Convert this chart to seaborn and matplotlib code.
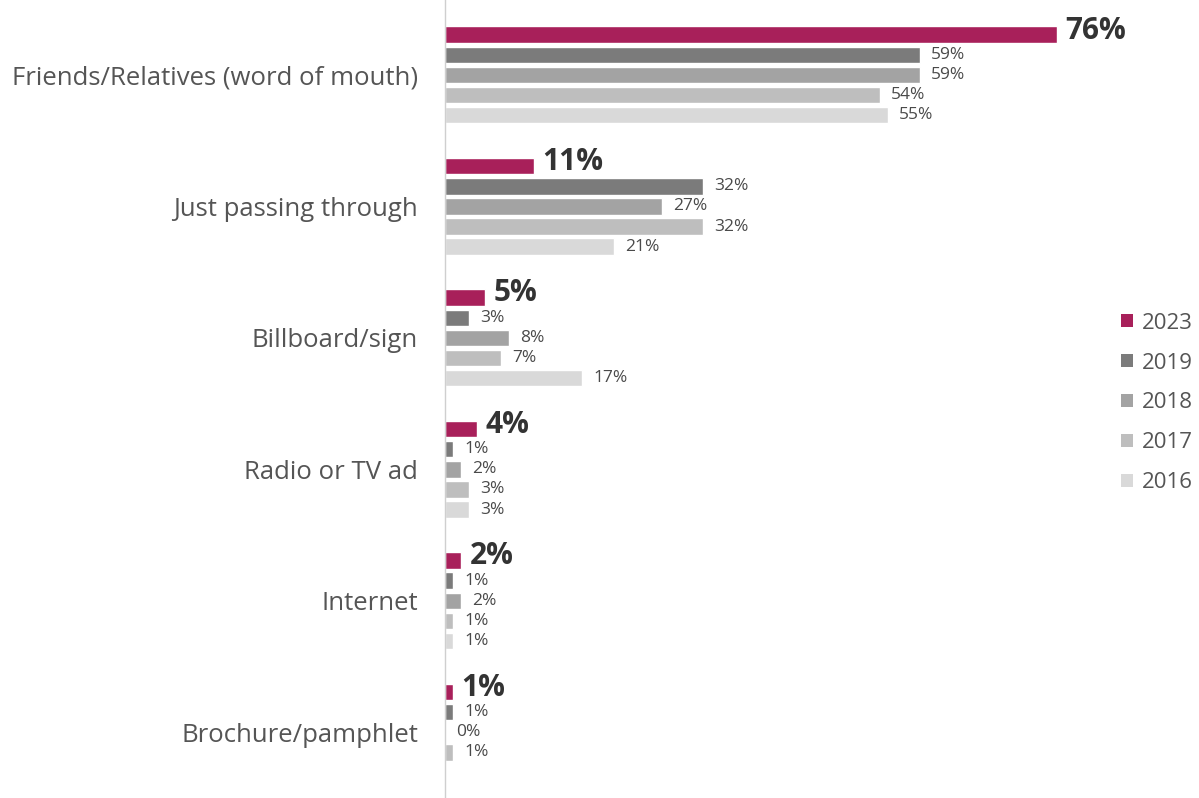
import matplotlib
matplotlib.use("Agg")
import matplotlib.pyplot as plt
import seaborn as sns
import pandas as pd
import numpy as np
from matplotlib.patches import Patch

categories = ["Friends/Relatives (word of mouth)", "Just passing through", "Billboard/sign",
              "Radio or TV ad", "Internet", "Brochure/pamphlet"]
years = ["2023", "2019", "2018", "2017", "2016"]
v2023 = [76, 11, 5, 4, 2, 1]
v2019 = [59, 32, 3, 1, 1, 1]
v2018 = [59, 27, 8, 2, 2, 0]
v2017 = [54, 32, 7, 3, 1, 1]
v2016 = [55, 21, 17, 3, 1, np.nan]
colors = ["#A8205A", "#7B7B7B", "#A3A3A3", "#BEBEBE", "#D9D9D9"]

series = [v2023, v2019, v2018, v2017, v2016]
rows = []
for y, vals in zip(years, series):
    for c, v in zip(categories, vals):
        rows.append({"cat": c, "year": y, "val": v})
df = pd.DataFrame(rows)

sns.set_style("white")
plt.rcParams["font.family"] = ["Open Sans", "DejaVu Sans"]
txt = "#4A4A4A"

fig = plt.figure(figsize=(11.99, 7.98), dpi=100)
ax = fig.add_axes([445 / 1199, 0, 645 / 1199, 1])

sns.barplot(data=df, y="cat", x="val", hue="year", hue_order=years, order=categories,
            palette=colors, orient="h", width=0.765, gap=0.18, ax=ax, legend=False,
            saturation=1, errorbar=None)

ax.set_xlim(0, 645 / 8.05)
ax.set_ylim(5.5, -0.57)

for i, cont in enumerate(ax.containers):
    for bar in cont:
        if bar is None:
            continue
        w = bar.get_width()
        if w != w:
            continue
        yc = bar.get_y() + bar.get_height() / 2
        if i == 0:
            ax.annotate(f"{int(round(w))}%", (w, yc), xytext=(6, 3), textcoords="offset points",
                        va="center", ha="left", fontsize=21.5, fontweight="bold", color="#333333")
        else:
            ax.annotate(f"{int(round(w))}%", (w, yc), xytext=(8, 0), textcoords="offset points",
                        va="center", ha="left", fontsize=12.5, color=txt)

ax.set_xlabel("")
ax.set_ylabel("")
ax.set_xticks([])
ax.tick_params(axis="y", length=0, pad=19.5, labelsize=18.5, labelcolor="#555555")
for s in ["top", "right", "bottom"]:
    ax.spines[s].set_visible(False)
ax.spines["left"].set_color("#CFCFCF")
ax.spines["left"].set_linewidth(1)

handles = [Patch(facecolor=c, edgecolor="none", label=y) for c, y in zip(colors, years)]
leg = fig.legend(handles=handles, loc="center left", bbox_to_anchor=(1121 / 1199, 1 - 403 / 798),
                 frameon=False, fontsize=16, handlelength=0.54, handleheight=0.54, borderpad=0,
                 borderaxespad=0, handletextpad=0.4, labelspacing=0.85, labelcolor="#555555")

fig.savefig("out.png", dpi=100)
